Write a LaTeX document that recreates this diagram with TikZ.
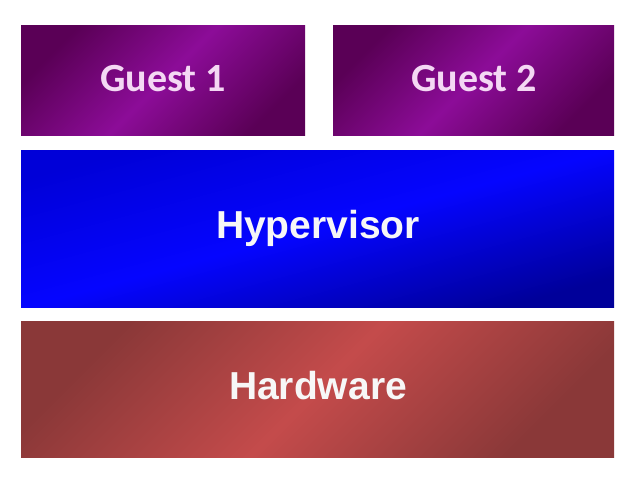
\documentclass[tikz,border=0pt]{standalone}
\usepackage{fontspec}
\setmainfont{Liberation Sans}
\newfontfamily\guestfont{Carlito}
\begin{document}
\begin{tikzpicture}[x=0.5pt,y=-0.5pt,
  guestbox/.style={shading=axis, top color=gdark, bottom color=gdark, middle color=gmid, shading angle=45},
  hypbox/.style={shading=axis, top color=hdark, bottom color=hdark2, middle color=hmid, shading angle=15},
  hwbox/.style={shading=axis, top color=rdark, bottom color=rdark, middle color=rmid, shading angle=45},
  guesttext/.style={font=\guestfont\bfseries\fontsize{20}{24}\selectfont, text=gtext},
  layertext/.style={font=\bfseries\fontsize{19.5}{23}\selectfont, text=white!94!gray}
]
\definecolor{gdark}{HTML}{5A0056}
\definecolor{gmid}{HTML}{8C0C98}
\definecolor{gtext}{HTML}{F4D8F4}
\definecolor{hdark}{HTML}{0000D8}
\definecolor{hdark2}{HTML}{00009A}
\definecolor{hmid}{HTML}{0505FF}
\definecolor{rdark}{HTML}{8A3838}
\definecolor{rmid}{HTML}{C44B4B}
\useasboundingbox (0,0) rectangle (630,478);
\fill[white] (0,0) rectangle (630,478);
\shade[guestbox] (21,25) rectangle (305,135);
\shade[guestbox] (333,25) rectangle (614,135);
\shade[hypbox] (21,150) rectangle (614,307);
\shade[hwbox] (21,321) rectangle (614,457);
\node[guesttext] (g1) at (163,79) {Guest 1};
\node[guesttext] (g2) at (474,79) {Guest 2};
\node[layertext] (hyp) at (318,228) {Hypervisor};
\node[layertext] (hw) at (318,386) {Hardware};
\end{tikzpicture}
\end{document}
